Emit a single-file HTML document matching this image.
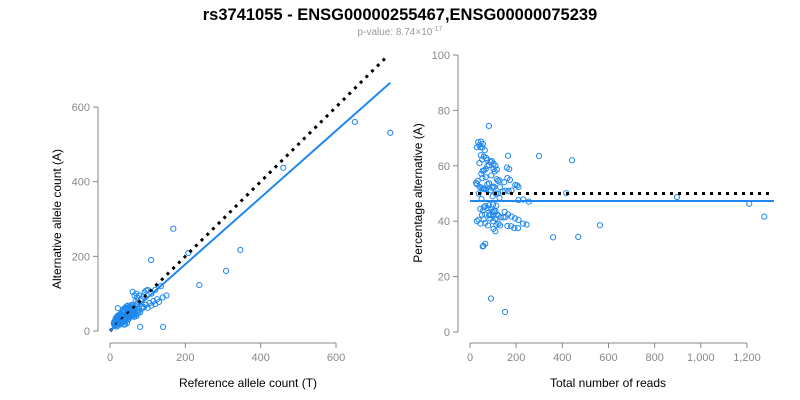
<!DOCTYPE html>
<html><head><meta charset="utf-8"><style>
body{margin:0;background:#fff;font-family:"Liberation Sans",Arial,sans-serif}
svg{display:block}
</style></head><body>
<svg id="c" width="800" height="400" xmlns="http://www.w3.org/2000/svg">
<text x="400" y="20" text-anchor="middle" font-size="16.5" font-weight="bold" fill="#000">rs3741055 - ENSG00000255467,ENSG00000075239</text>
<text x="400" y="35" text-anchor="middle" font-size="10" fill="#999">p-value: 8.74×10<tspan dy="-4" font-size="7">-17</tspan></text>
<text transform="translate(61,219) rotate(-90)" text-anchor="middle" font-size="12" fill="#000">Alternative allele count (A)</text>
<text x="248" y="387" text-anchor="middle" font-size="12" fill="#000">Reference allele count (T)</text>
<text transform="translate(422,193) rotate(-90)" text-anchor="middle" font-size="12" fill="#000">Percentage alternative (A)</text>
<text x="608" y="387" text-anchor="middle" font-size="12" fill="#000">Total number of reads</text>
</svg>
<script>
const refCounts=[12,15,10,18,14,20,11,22,16,25,13,19,24,17,28,21,26,30,15,23,27,32,20,29,33,18,35,25,31,36,22,38,28,40,34,
35,42,30,45,38,48,33,50,44,52,40,55,36,58,47,60,42,62,50,65,45,56,68,52,70,48,60,72,55,75,58,66,78,62,80,
70,85,68,90,75,95,72,100,82,105,78,110,88,115,92,120,96,125,100,60,130,85,140,110,70,120,150,65,135,
141,80,21,109,168,237,346,460,650,744,308,208,18,22,15,40,45,38,
30,26,48,52,40,64,34,58,44,70,24,38,54,46,28,62,36,50];
const altCounts=[14,18,20,12,16,22,24,15,25,20,27,19,26,30,18,28,24,22,30,32,29,25,33,31,27,36,24,35,33,30,38,28,40,26,36,
40,34,45,38,44,35,50,40,46,38,52,42,58,45,52,40,60,48,55,45,62,56,50,64,44,68,60,52,66,48,70,62,55,68,50,
72,60,80,64,78,70,90,62,85,75,95,68,92,80,104,72,108,85,110,105,78,65,90,100,100,110,95,95,120,
11,11,61,190,274,123,217,437,560,531,161,209,38,42,33,18,21,17,
38,44,30,36,62,38,54,42,66,40,30,44,46,50,46,52,58,48];
const xTicksL=[0,200,400,600], yTicksL=[0,200,400,600];
const xTicksR=[0,200,400,600,800,1000,1200], yTicksR=[0,20,40,60,80,100];
const slope=0.894, meanPct=47.3, nullPct=50;
const svg=document.getElementById('c'), NS='http://www.w3.org/2000/svg';
const xL=v=>110+v*0.3767, yL=v=>331-v*0.3733;
const xR=v=>470+v*0.2308, yR=v=>332-v*2.77;
function mk(t,a){const e=document.createElementNS(NS,t);for(const k in a)e.setAttribute(k,a[k]);svg.appendChild(e);return e;}
const fmt=v=>v>=1000?v.toLocaleString('en-US'):String(v);
let e;
e=mk('line',{x1:98,y1:yL(600),x2:98,y2:331,stroke:'#888'});


e=mk('line',{x1:110,y1:343,x2:xL(600),y2:343,stroke:'#888'});


e=mk('line',{x1:458,y1:yR(100),x2:458,y2:332,stroke:'#888'});


e=mk('line',{x1:470,y1:343,x2:xR(1200),y2:343,stroke:'#888'});


xTicksL.forEach(v=>{mk('line',{x1:xL(v),x2:xL(v),y1:343,y2:348,stroke:'#888'});
 e=mk('text',{x:xL(v),y:361,'text-anchor':'middle','font-size':11,fill:'#888'});e.textContent=fmt(v);
 
 });
yTicksL.forEach(v=>{mk('line',{x1:93,x2:98,y1:yL(v),y2:yL(v),stroke:'#888'});
 e=mk('text',{x:90,y:yL(v)+4,'text-anchor':'end','font-size':11,fill:'#888'});e.textContent=fmt(v);
 
 });
xTicksR.forEach(v=>{mk('line',{x1:xR(v),x2:xR(v),y1:343,y2:348,stroke:'#888'});
 e=mk('text',{x:xR(v),y:361,'text-anchor':'middle','font-size':11,fill:'#888'});e.textContent=fmt(v);
 
 });
yTicksR.forEach(v=>{mk('line',{x1:453,x2:458,y1:yR(v),y2:yR(v),stroke:'#888'});
 e=mk('text',{x:450,y:yR(v)+4,'text-anchor':'end','font-size':11,fill:'#888'});e.textContent=fmt(v);
 
 });
refCounts.forEach((r,i)=>{const a=altCounts[i],t=r+a,p=a/t*100;
 e=mk('circle',{cx:xL(r),cy:yL(a),r:2.6,fill:'none',stroke:'#1e88f0','stroke-width':1});
 
 
 e=mk('circle',{cx:xR(t),cy:yR(p),r:2.6,fill:'none',stroke:'#1e88f0','stroke-width':1});
 
 });
e=mk('line',{x1:xL(0),y1:yL(0),x2:xL(736),y2:yL(736),stroke:'#000','stroke-width':3,'stroke-dasharray':'3,5'});


e=mk('line',{x1:xL(0),y1:yL(0),x2:xL(744),y2:yL(744*slope),stroke:'#1e88f0','stroke-width':2});


e=mk('line',{x1:470,y1:yR(nullPct),x2:772,y2:yR(nullPct),stroke:'#000','stroke-width':3,'stroke-dasharray':'3,5'});


e=mk('line',{x1:470,y1:yR(meanPct),x2:774,y2:yR(meanPct),stroke:'#1e88f0','stroke-width':2});


</script>
</body></html>
